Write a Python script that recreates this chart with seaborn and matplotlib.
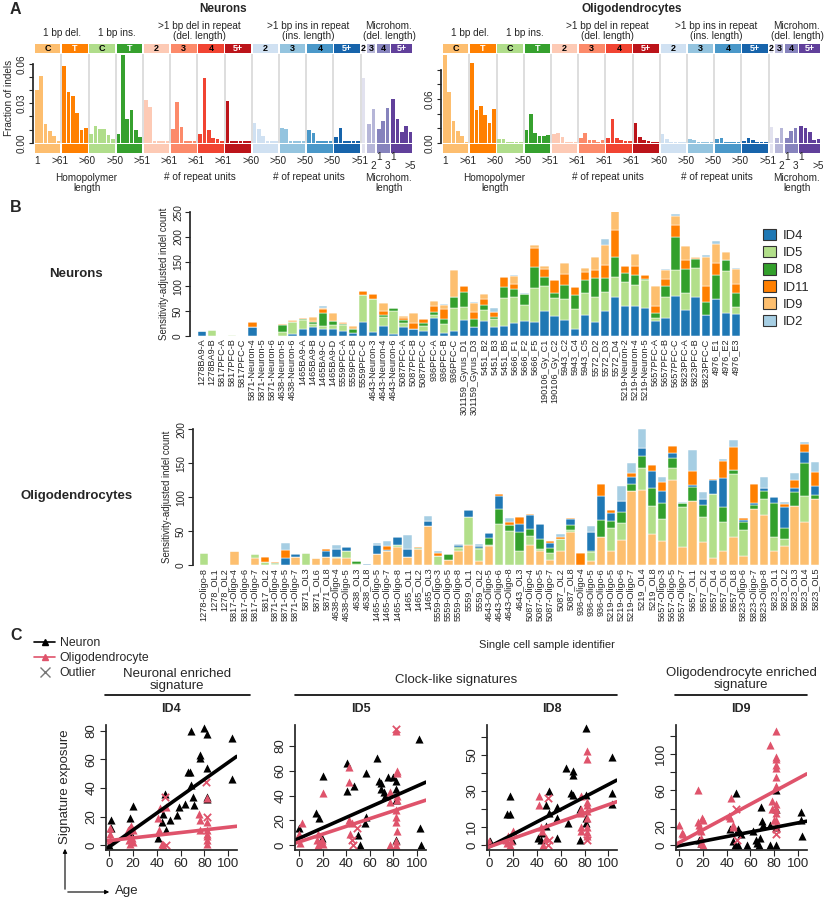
import numpy as np
import pandas as pd
import matplotlib.pyplot as plt
from matplotlib.patches import Rectangle, Patch, FancyArrowPatch
from matplotlib.lines import Line2D
import seaborn as sns

sns.set_theme(style="ticks")
plt.rcParams['font.family'] = ['Liberation Sans', 'DejaVu Sans']

# ---------------- Panel A data: indel profile (83 channels) ----------------
a_groups = ["C", "T", "C", "T", "2", "3", "4", "5+", "2", "3", "4", "5+", "2", "3", "4", "5+"]
a_sizes = [6] * 12 + [1, 2, 3, 5]
a_colors = ["#FDBE6F", "#FF8001", "#B0DD8B", "#36A12E", "#FDCAB5", "#FC8A6A", "#F14432", "#BC141A",
            "#D0E1F2", "#94C4DF", "#4A98C9", "#1764AB", "#E2E2EF", "#B6B6D8", "#8683BD", "#61409B"]
a_white_text = [0, 1, 0, 1, 0, 0, 0, 1, 0, 0, 0, 1, 0, 0, 0, 1]
a_titles = ["1 bp del.", "1 bp ins.", ">1 bp del in repeat\n(del. length)",
            ">1 bp ins in repeat\n(ins. length)", "Microhom.\n(del. length)"]
a_bound_labels = [">61", ">60", ">50", ">51", ">61", ">61", ">61", ">60", ">50", ">50", ">50", ">51"]

neu_1del = [0.040, 0.051, 0.014, 0.009, 0.005, 0.001, 0.0585, 0.039, 0.0356, 0.0224, 0.0097, 0.0115]
neu_1ins = [0.0066, 0.0127, 0.0102, 0.0102, 0.0058, 0.0025, 0.0066, 0.067, 0.0178, 0.025, 0.0097, 0.004]
neu_rdel = [0.0326, 0.027, 0.001, 0.0015, 0.001, 0.001, 0.0102, 0.0308, 0.0122, 0.001, 0.0015, 0.001,
            0.0066, 0.049, 0.0097, 0.0033, 0.0025, 0.0015, 0.0318, 0.001, 0.001, 0.001, 0.001, 0.001]
neu_rins = [0.0153, 0.0102, 0.005, 0.001, 0.001, 0.001, 0.0115, 0.0102, 0.001, 0.001, 0.001, 0.001,
            0.0097, 0.0076, 0.001, 0.001, 0.001, 0.001, 0.0046, 0.011, 0.001, 0.001, 0.001, 0.001]
neu_mh = [0.049, 0.0142, 0.0254, 0.0102, 0.0168, 0.0267, 0.033, 0.0178, 0.0084, 0.0127, 0.0084]

oli_1del = [0.120, 0.069, 0.030, 0.016, 0.009, 0.0014, 0.109, 0.045, 0.050, 0.038, 0.0266, 0.046]
oli_1ins = [0.0046, 0.005, 0.0014, 0.0014, 0.0014, 0.0014, 0.0174, 0.040, 0.0137, 0.009, 0.009, 0.0105]
oli_rdel = [0.012, 0.0137, 0.008, 0.0014, 0.0014, 0.0014, 0.006, 0.0128, 0.0037, 0.0037, 0.0014, 0.0037,
            0.006, 0.0325, 0.006, 0.0037, 0.0028, 0.0028, 0.0266, 0.0082, 0.0037, 0.0028, 0.0014, 0.0014]
oli_rins = [0.0115, 0.0046, 0.0014, 0.0014, 0.0014, 0.0014, 0.0046, 0.0037, 0.0014, 0.0014, 0.0014, 0.0014,
            0.0046, 0.0069, 0.0014, 0.0014, 0.0014, 0.0014, 0.0028, 0.0069, 0.0037, 0.0014, 0.0014, 0.0014]
oli_mh = [0.022, 0.0069, 0.0197, 0.0069, 0.0165, 0.0206, 0.023, 0.0197, 0.015, 0.0037, 0.0046]

# ---------------- Panel B data: signature counts per cell ----------------
sig_names = ["ID4", "ID5", "ID8", "ID11", "ID9", "ID2"]
sig_colors = {"ID4": "#1F78B4", "ID5": "#B2DF8A", "ID8": "#33A02C",
              "ID11": "#FF7F00", "ID9": "#FDBF6F", "ID2": "#A6CEE3"}

neuron_cells = ["1278BA9-A", "1278BA9-B", "5817PFC-A", "5817PFC-B", "5817PFC-C", "5871-Neuron-4",
                "5871-Neuron-5", "5871-Neuron-6", "4638-Neuron-5", "4638-Neuron-6", "1465BA9-A", "1465BA9-B",
                "1465BA9-C", "1465BA9-D", "5559PFC-A", "5559PFC-B", "5559PFC-C", "4643-Neuron-3",
                "4643-Neuron-4", "4643-Neuron-6", "5087PFC-A", "5087PFC-B", "5087PFC-C", "936PFC-A",
                "936PFC-B", "936PFC-C", "301159_Gyrus_D1", "301159_Gyrus_D3", "5451_B2", "5451_B3",
                "5451_B5", "5666_F1", "5666_F2", "5666_F5", "190106_Gy_C1", "190106_Gy_C2", "5943_C2",
                "5943_C4", "5943_C5", "5572_D2", "5572_D3", "5572_D4", "5219-Neuron-2", "5219-Neuron-4",
                "5219-Neuron-5", "5657PFC-A", "5657PFC-B", "5657PFC-C", "5823PFC-A", "5823PFC-B",
                "5823PFC-C", "4976_E1", "4976_E2", "4976_E3"]
neu_ID4 = [10, 0, 0, 0, 0, 17, 0, 0, 0, 3, 13, 18, 13, 14, 9, 6, 28, 8, 20, 3,
           18, 14, 10, 35, 6, 10, 32, 17, 30, 18, 20, 26, 30, 28, 51, 39, 32, 14, 41, 27,
           50, 78, 61, 61, 57, 30, 35, 81, 52, 78, 41, 74, 45, 44]
neu_ID5 = [0, 11, 0, 1, 0, 0, 0, 0, 7, 24, 19, 5, 6, 7, 13, 0, 55, 66, 18, 47,
           8, 0, 10, 7, 17, 47, 27, 0, 22, 15, 57, 53, 33, 69, 50, 37, 43, 41, 45, 51,
           38, 41, 47, 42, 55, 5, 44, 52, 35, 59, 0, 1, 86, 14]
neu_ID8 = [0, 0, 0, 1, 0, 0, 0, 0, 15, 0, 1, 5, 26, 9, 2, 7, 0, 0, 3, 7,
           5, 0, 6, 7, 10, 22, 30, 17, 11, 5, 22, 15, 22, 43, 17, 11, 28, 28, 27, 39,
           28, 40, 19, 19, 2, 11, 22, 66, 48, 19, 28, 48, 23, 28]
neu_ID11 = [0, 0, 0, 0, 0, 11, 0, 0, 1, 2, 3, 1, 10, 0, 2, 0, 7, 10, 9, 0,
            5, 11, 7, 11, 22, 0, 11, 14, 11, 10, 19, 11, 0, 37, 18, 26, 21, 16, 17, 16,
            27, 55, 14, 20, 9, 14, 13, 26, 18, 1, 32, 25, 0, 19]
neu_ID9 = [0, 0, 0, 0, 0, 0, 0, 0, 0, 2, 0, 9, 2, 16, 2, 7, 1, 0, 17, 0,
           4, 20, 0, 11, 7, 55, 0, 18, 11, 0, 1, 16, 0, 7, 6, 0, 24, 0, 7, 27,
           41, 42, 1, 24, 0, 41, 20, 18, 29, 3, 58, 37, 16, 30]
neu_ID2 = [0, 0, 0, 0, 0, 0, 0, 0, 0, 0, 0, 0, 3, 0, 0, 0, 0, 0, 0, 0,
           0, 0, 0, 0, 3, 0, 0, 3, 0, 9, 0, 2, 1, 0, 0, 0, 0, 0, 0, 0,
           11, 0, 0, 0, 0, 0, 1, 4, 0, 0, 5, 7, 0, 3]

oligo_cells = ["1278-Oligo-8", "1278_OL1", "1278_OL2", "5817-Oligo-4", "5817-Oligo-6", "5817-Oligo-7",
               "5817_OL2", "5871-Oligo-4", "5871-Oligo-5", "5871-Oligo-7", "5871_OL3", "5871_OL6",
               "5871_OL8", "4638-Oligo-4", "4638-Oligo-5", "4638_OL3", "4638_OL8", "1465-Oligo-5",
               "1465-Oligo-7", "1465-Oligo-8", "1465_OL1", "1465_OL2", "1465_OL3", "5559-Oligo-3",
               "5559-Oligo-5", "5559-Oligo-8", "5559_OL1", "5559_OL2", "4643-Oligo-5", "4643-Oligo-6",
               "4643-Oligo-8", "4643_OL3", "5087-Oligo-4", "5087-Oligo-5", "5087-Oligo-7", "5087_OL2",
               "5087_OL8", "936-Oligo-4", "936-Oligo-5", "936-Oligo-6", "5219-Oligo-5", "5219-Oligo-6",
               "5219-Oligo-7", "5219_OL4", "5219_OL8", "5657-Oligo-3", "5657-Oligo-5", "5657-Oligo-7",
               "5657_OL1", "5657_OL2", "5657_OL4", "5657_OL6", "5657_OL8", "5823-Oligo-6", "5823-Oligo-7",
               "5823-Oligo-8", "5823_OL1", "5823_OL2", "5823_OL3", "5823_OL4", "5823_OL5"]
oli_ID9 = [0, 0, 0, 21, 0, 10, 0, 0, 0, 12, 0, 11, 12, 10, 10, 0, 0, 16, 20, 27,
           12, 23, 58, 0, 7, 21, 29, 6, 28, 0, 0, 0, 29, 20, 8, 21, 49, 0, 6, 42,
           20, 37, 109, 110, 45, 35, 126, 26, 95, 34, 10, 20, 42, 13, 82, 74, 20, 28, 87, 64, 97]
oli_ID5 = [17, 0, 0, 0, 0, 6, 4, 1, 0, 0, 17, 0, 0, 2, 10, 1, 0, 0, 0, 2,
           0, 0, 0, 14, 0, 4, 42, 17, 2, 60, 50, 21, 14, 4, 10, 17, 2, 0, 13, 0,
           35, 25, 0, 33, 42, 33, 17, 60, 0, 37, 94, 43, 92, 39, 0, 23, 21, 10, 0, 38, 0]
oli_ID8 = [0, 0, 0, 0, 0, 0, 0, 2, 0, 0, 0, 0, 0, 0, 0, 5, 0, 0, 0, 0,
           0, 2, 0, 0, 9, 2, 0, 2, 10, 22, 9, 27, 10, 15, 7, 0, 8, 0, 2, 25,
           10, 16, 10, 18, 27, 24, 15, 5, 20, 17, 1, 22, 6, 12, 7, 12, 50, 17, 21, 48, 6]
oli_ID4 = [0, 0, 0, 0, 0, 0, 0, 0, 11, 4, 0, 0, 9, 11, 6, 0, 2, 13, 2, 12,
           11, 0, 7, 0, 0, 3, 10, 3, 7, 20, 0, 12, 21, 22, 8, 0, 9, 0, 27, 34,
           12, 16, 10, 12, 24, 17, 7, 0, 3, 9, 21, 43, 0, 2, 3, 4, 9, 31, 6, 17, 13]
oli_ID11 = [0, 0, 0, 0, 0, 0, 8, 1, 11, 0, 0, 0, 2, 1, 1, 0, 0, 0, 6, 0,
            0, 1, 0, 3, 0, 0, 0, 0, 0, 3, 4, 11, 1, 0, 3, 4, 2, 17, 0, 18,
            4, 0, 7, 0, 10, 14, 11, 0, 21, 0, 1, 25, 34, 4, 28, 0, 0, 4, 11, 11, 21]
oli_ID2 = [0, 0, 0, 0, 0, 0, 0, 0, 11, 0, 0, 0, 0, 6, 0, 0, 0, 4, 7, 0,
           21, 1, 7, 3, 0, 1, 0, 3, 0, 0, 6, 0, 0, 0, 0, 4, 0, 0, 9, 0,
           0, 22, 14, 28, 0, 6, 0, 2, 30, 10, 0, 3, 10, 0, 0, 17, 0, 3, 10, 4, 15]

# ---------------- Panel C data: exposure vs age ----------------
c_titles = ["ID4", "ID5", "ID8", "ID9"]
id4_neu_age = [0, 2, 2, 17.6, 17.6, 18.4, 20, 41, 44, 45, 47, 48, 51, 57, 59, 64, 66, 68, 69, 70,
               69, 71, 76, 76, 80, 82, 82, 82, 82, 103, 103]
id4_neu_val = [0, 12, 17.5, 19, 12, 8, 27.6, 4.7, 16, 22, 36, 10.5, 17.5, 21, 27, 29, 51, 51, 42, 34,
               80, 28, 63, 61, 82, 78, 54, 34, 32, 75, 46]
id4_oli_age = [1, 1, 1, 16, 16, 17, 17.6, 19, 20, 20, 18, 41, 42, 43, 44, 45, 48, 75, 76, 76,
               82, 82, 82, 82, 82, 82, 82]
id4_oli_val = [8, 12, 3.5, 10.5, 7, 3.5, 1, 4.7, 2.3, 10.5, 13, 19, 10.5, 26, 1, 0, 27, 22, 17.5, 10.5,
               33, 16, 10.5, 8, 6, 3.5, 1]
id4_out_age = [47, 48, 82, 81]
id4_out_val = [34, 0, 20, 44]

id5_neu_age = [0, 14.6, 17, 19, 20, 41, 41, 47, 50, 52, 57, 57, 56, 66, 68, 70, 70, 72, 73, 76,
               80, 82, 82, 82, 82, 102, 103, 104]
id5_neu_val = [13.5, 25.6, 21.5, 6, 56, 66, 44, 48, 8, 0, 58, 23, 17.5, 70, 52, 50, 45, 43, 40, 55,
               55, 52, 45, 36, 4, 86, 14, 0]
id5_oli_age = [0, 2, 0.5, 16, 17.6, 19, 20, 15, 16, 20, 42, 42, 42, 43, 45, 77, 77, 77, 82, 83,
               83, 83, 83, 82, 82, 82, 83, 82, 82]
id5_oli_val = [9, 17.5, 2, 9, 2, 4, 42, 4, 0, 1, 63, 51, 20, 9, 17.5, 43, 35, 0, 92, 60,
               58, 40, 36, 28, 23, 19, 11, 3, 0]
id5_out_age = [45, 46, 49, 82]
id5_out_val = [4, 0, 13.5, 94]

id8_neu_age = [0.5, 15, 17, 17, 19, 41, 43, 44, 48, 48, 50, 50, 57, 57, 57, 64, 66, 69, 70, 70,
               70, 76, 76, 81, 81, 81, 81, 103, 103, 103]
id8_neu_val = [2, 17, 17, 27, 3, 4, 3, 6.5, 10.5, 22, 30, 17.6, 21, 15, 4, 43, 12, 29, 41, 39,
               28, 3, 20, 65, 28, 15, 12, 49, 29, 23]
id8_oli_age = [0, 14, 15, 16, 17, 18, 20, 42, 42, 43, 44, 45, 48, 77, 77, 77, 77, 77, 82, 82,
               82, 82, 82, 82, 82, 82, 82]
id8_oli_val = [2, 3, 1, 5, 0, 2, 8, 27, 22, 10, 8, 0, 4, 27, 20, 18, 10, 8, 52, 48,
               24, 22, 19, 15, 10, 7, 5]
id8_out_age = [49, 49, 50, 82]
id8_out_val = [26, 0, 3, 3]

id9_neu_age = [17, 18, 43, 45, 47, 48, 50, 50, 52, 57, 62, 65, 66, 67, 68, 69, 70, 71, 77, 77,
               82, 82, 82, 82, 103, 103, 104]
id9_neu_val = [5, 2, 18, 4, 0, 57, 18, 0, 12, 0, 15, 5, 2, 0, 8, 42, 26, 22, 0, 22,
               60, 40, 20, 0, 36, 28, 10]
id9_oli_age = [0, 2, 3, 16, 16, 17, 17, 18, 18, 18, 19, 20, 20, 42, 43, 44, 45, 45, 77, 78,
               78, 80, 82, 82, 82, 82, 82, 82, 82, 82, 82, 82, 82, 82]
id9_oli_val = [22, 13, 12, 60, 25, 22, 18, 15, 8, 2, 30, 27, 0, 32, 30, 52, 20, 22, 110, 48,
               40, 28, 125, 97, 95, 88, 85, 75, 65, 45, 40, 35, 28, 22]
id9_out_age = [48, 49, 82, 82]
id9_out_val = [40, 5, 12, 18]

# fitted lines (intercept, slope) for ID4, ID5, ID8, ID9
fit_neu_int = [-1.4, 5.5, -1.0, -0.8]
fit_neu_slope = [0.594, 0.42, 0.346, 0.25]
fit_oli_int = [3.1, 2.6, -1.0, 2.7]
fit_oli_slope = [0.094, 0.312, 0.234, 0.70]

RED = "#DF536B"
W, H = 825, 900
fig = plt.figure(figsize=(W / 100, H / 100), dpi=100)


def px_axes(l, t, r, b):
    return fig.add_axes([l / W, 1 - b / H, (r - l) / W, (b - t) / H])


def ftext(x, y, s, **kw):
    fig.text(x / W, 1 - y / H, s, **kw)


def fline(x0, y0, x1, y1, **kw):
    fig.add_artist(Line2D([x0 / W, x1 / W], [1 - y0 / H, 1 - y1 / H], transform=fig.transFigure, **kw))


# ================= Panel A =================
def channel_layout():
    xs, starts, pos = [], [], 0.0
    for g, n in enumerate(a_sizes):
        if g > 0:
            pos += 0.3
        starts.append(pos)
        xs.extend(pos + np.arange(n))
        pos += n
    return np.array(xs), starts


def draw_profile(ax, values, title, ymax, ticks, labels, first):
    xs, starts = channel_layout()
    cols = [a_colors[g] for g, n in enumerate(a_sizes) for _ in range(n)]
    ax.bar(xs, values, width=0.85, color=cols, linewidth=0)
    ax.set_xlim(-0.9, 87.3)
    ax.set_ylim(0, ymax)
    for s in starts[1:13]:
        ax.axvline(s - 0.65, color="#d4d4d4", lw=1.1, zorder=0)
    tr = ax.get_xaxis_transform()
    for g, (s, n) in enumerate(zip(starts, a_sizes)):
        ax.add_patch(Rectangle((s - 0.45, 1.005), n - 0.1, 0.105, transform=tr,
                               color=a_colors[g], clip_on=False, lw=0))
        ax.text(s + (n - 1) / 2, 1.058, a_groups[g], transform=tr, ha="center", va="center",
                fontsize=6.5, fontweight="bold", color="white" if a_white_text[g] else "black")
        ax.add_patch(Rectangle((s - 0.45, -0.12), n - 0.1, 0.105, transform=tr,
                               color=a_colors[g], clip_on=False, lw=0))
    # group titles
    centers = [5.9, 18.5, 37.7, 62.9, 81.5]
    for c, t in zip(centers, a_titles):
        yy = 1.23 if "\n" not in t else 1.25
        ax.text(c, yy, t, transform=tr, ha="center", va="center", fontsize=7.2, linespacing=0.95)
    ax.text(0.5, 1.5, title, transform=ax.transAxes, ha="center", va="center",
            fontsize=8.5, fontweight="bold")
    # boundary tick labels
    ax.text(0, -0.2, "1", transform=tr, ha="center", va="center", fontsize=7.2)
    for s, lab in zip(starts[1:13], a_bound_labels):
        ax.text(s - 0.9, -0.2, lab, transform=tr, ha="center", va="center", fontsize=7.2)
    mh_up = [(starts[14], "1"), (starts[15], "1")]
    mh_lo = [(starts[13] + 1, "2"), (starts[14] + 2, "3"), (starts[15] + 4, ">5")]
    for x, lab in mh_up:
        ax.text(x, -0.16, lab, transform=tr, ha="center", va="center", fontsize=7.2)
    for x, lab in mh_lo:
        ax.text(x, -0.26, lab, transform=tr, ha="center", va="center", fontsize=7.2)
    for c, t, yy in [(11.5, "Homopolymer\nlength", -0.45), (37.7, "# of repeat units", -0.39),
                     (62.9, "# of repeat units", -0.39), (81.5, "Microhom.\nlength", -0.45)]:
        ax.text(c, yy, t, transform=tr, ha="center", va="center", fontsize=7.2, linespacing=0.95)
    sns.despine(ax=ax, bottom=True)
    ax.spines["left"].set_bounds(0, ticks[-1])
    ax.set_xticks([])
    ax.set_yticks(ticks)
    ax.set_yticklabels(labels, rotation=90, va="center", fontsize=7.2)
    ax.tick_params(axis="y", length=3, width=0.8, pad=1.5)
    if first:
        ax.set_ylabel("Fraction of indels", fontsize=7.2, labelpad=2)


neu_profile = neu_1del + neu_1ins + neu_rdel + neu_rins + neu_mh
oli_profile = oli_1del + oli_1ins + oli_rdel + oli_rins + oli_mh

axA1 = px_axes(33, 53.5, 414, 142.7)
draw_profile(axA1, neu_profile, "Neurons", 0.068, [0, 0.01, 0.02, 0.03, 0.04, 0.05, 0.06],
             ["0.00", "", "", "0.03", "", "", "0.06"], True)
axA2 = px_axes(441, 53.5, 822, 142.7)
draw_profile(axA2, oli_profile, "Oligodendrocytes", 0.1225, [0, 0.02, 0.04, 0.06, 0.08, 0.10],
             ["0.00", "", "", "0.06", "", ""], False)


# ================= Panel B =================
def draw_stack(ax, cells, layers, order, ymax, yticks):
    x = np.arange(len(cells))
    bottom = np.zeros(len(cells))
    for name in order:
        vals = np.array(layers[name], dtype=float)
        ax.bar(x, vals, bottom=bottom, width=0.83, color=sig_colors[name],
               edgecolor="white", linewidth=0.35)
        bottom += vals
    ax.set_ylim(0, ymax)
    ax.set_xticks(x)
    ax.set_xticklabels(cells, rotation=90, fontsize=6.6)
    ax.tick_params(axis="x", length=0, pad=2)
    ax.set_yticks(yticks)
    ax.set_yticklabels([str(v) for v in yticks], rotation=90, va="center", fontsize=7.3)
    ax.tick_params(axis="y", length=3.5, width=0.8, pad=1.5)
    sns.despine(ax=ax, bottom=True)
    ax.spines["left"].set_bounds(0, yticks[-1])
    ax.set_ylabel("Sensitivity-adjusted indel count", fontsize=6.9, labelpad=3)


axB1 = px_axes(190, 212.3, 745, 335.7)
draw_stack(axB1, neuron_cells,
           {"ID4": neu_ID4, "ID5": neu_ID5, "ID8": neu_ID8, "ID11": neu_ID11, "ID9": neu_ID9, "ID2": neu_ID2},
           ["ID4", "ID5", "ID8", "ID11", "ID9", "ID2"], 250, [0, 50, 100, 150, 200, 250])
axB1.set_xlim(-1.19, 53.9)

axB2 = px_axes(193, 429.3, 822, 565)
draw_stack(axB2, oligo_cells,
           {"ID4": oli_ID4, "ID5": oli_ID5, "ID8": oli_ID8, "ID11": oli_ID11, "ID9": oli_ID9, "ID2": oli_ID2},
           ["ID9", "ID5", "ID8", "ID4", "ID11", "ID2"], 200, [0, 50, 100, 150, 200])
axB2.set_xlim(-1.08, 60.7)

handles = [Patch(facecolor=sig_colors[s], edgecolor="#333333", lw=0.8) for s in sig_names]
fig.legend(handles, sig_names, loc="upper left", bbox_to_anchor=(756 / W, 1 - 222 / H), frameon=False,
           fontsize=9.4, handlelength=1.0, handleheight=1.0, handletextpad=0.55, labelspacing=0.3,
           borderpad=0)

ftext(76, 274, "Neurons", fontsize=9.5, fontweight="bold", ha="center", va="center")
ftext(77, 496, "Oligodendrocytes", fontsize=9.5, fontweight="bold", ha="center", va="center")
ftext(547, 645, "Single cell sample identifier", fontsize=8, ha="center", va="center")


# ================= Panel C =================
def draw_sig(ax, k, neu_age, neu_val, oli_age, oli_val, out_age, out_val, xlim, ylim, yticks, ylabels):
    neu = pd.DataFrame({"age": neu_age, "exposure": neu_val})
    oli = pd.DataFrame({"age": oli_age, "exposure": oli_val})
    out = pd.DataFrame({"age": out_age, "exposure": out_val})
    sns.scatterplot(data=neu, x="age", y="exposure", marker="^", s=34, color="black",
                    linewidth=0, ax=ax, clip_on=False)
    sns.scatterplot(data=oli, x="age", y="exposure", marker="^", s=34, color=RED,
                    linewidth=0, ax=ax, clip_on=False)
    sns.scatterplot(data=out, x="age", y="exposure", marker="x", s=28, color=RED,
                    linewidth=1.3, ax=ax, clip_on=False)
    grid = np.linspace(xlim[0], xlim[1], 40)
    sns.lineplot(x=grid, y=fit_neu_int[k] + fit_neu_slope[k] * grid, color="black", lw=2.6, ax=ax)
    sns.lineplot(x=grid, y=fit_oli_int[k] + fit_oli_slope[k] * grid, color=RED, lw=2.6, ax=ax)
    ax.set_xlim(*xlim)
    ax.set_ylim(*ylim)
    ax.set_xticks([0, 20, 40, 60, 80, 100])
    ax.set_xticklabels(["0", "20", "40", "60", "80", "100"], fontsize=9.5)
    ax.set_yticks(yticks)
    ax.set_yticklabels(ylabels, rotation=90, va="center", fontsize=9.5)
    ax.tick_params(length=4, width=0.8, pad=2)
    ax.set_xlabel("")
    ax.set_ylabel("")
    sns.despine(ax=ax)
    ax.set_title(c_titles[k], fontsize=9, fontweight="bold", pad=9)


axC1 = px_axes(105.7, 725, 236.7, 850)
draw_sig(axC1, 0, id4_neu_age, id4_neu_val, id4_oli_age, id4_oli_val, id4_out_age, id4_out_val,
         (-2.8, 107), (-3.5, 84.2), [0, 20, 40, 60, 80], ["0", "20", "40", "60", "80"])
axC2 = px_axes(295, 725, 426, 850)
draw_sig(axC2, 1, id5_neu_age, id5_neu_val, id5_oli_age, id5_oli_val, id5_out_age, id5_out_val,
         (-3.7, 108), (-4, 97), [0, 20, 40, 60, 80], ["0", "20", "40", "60", "80"])
axC3 = px_axes(486.7, 725, 616.7, 850)
draw_sig(axC3, 2, id8_neu_age, id8_neu_val, id8_oli_age, id8_oli_val, id8_out_age, id8_out_val,
         (-2.2, 107), (-2.8, 66.7), [0, 10, 20, 30, 40, 50, 60], ["0", "10", "", "30", "", "50", ""])
axC4 = px_axes(675.7, 725, 806.7, 850)
draw_sig(axC4, 3, id9_neu_age, id9_neu_val, id9_oli_age, id9_oli_val, id9_out_age, id9_out_val,
         (-3, 107.7), (-5.5, 131.8), [0, 20, 40, 60, 80, 100, 120], ["0", "20", "", "60", "", "100", ""])

# group headers
ftext(177, 680, "Neuronal enriched\nsignature", fontsize=9.5, ha="center", va="center", linespacing=0.95)
fline(105, 695, 250, 695, color="black", lw=1.2)
ftext(456, 680, "Clock-like signatures", fontsize=9.5, ha="center", va="center")
fline(295, 695, 617, 695, color="black", lw=1.2)
ftext(741, 679, "Oligodendrocyte enriched\nsignature", fontsize=9.5, ha="center", va="center", linespacing=0.95)
fline(675, 695, 807, 695, color="black", lw=1.2)

# legend for C
c_handles = [Line2D([0], [0], color="black", lw=1.2, marker="^", markersize=4),
             Line2D([0], [0], color=RED, lw=1.2, marker="^", markersize=4),
             Line2D([0], [0], color="#777777", lw=0, marker="x", markersize=7, markeredgewidth=1)]
fig.legend(c_handles, ["Neuron", "Oligodendrocyte", "Outlier"], loc="upper left",
           bbox_to_anchor=(28 / W, 1 - 631 / H), frameon=False, fontsize=8.8, handlelength=1.7,
           handletextpad=0.4, labelspacing=0.25, borderpad=0)

# axis arrows
ftext(65, 787, "Signature exposure", fontsize=9.5, rotation=90, ha="center", va="center")
fig.add_artist(FancyArrowPatch((65 / W, 1 - 892 / H), (65 / W, 1 - 846 / H), transform=fig.transFigure,
                               arrowstyle="-|>", mutation_scale=6, lw=0.8, color="black"))
fig.add_artist(FancyArrowPatch((65 / W, 1 - 892 / H), (112 / W, 1 - 892 / H), transform=fig.transFigure,
                               arrowstyle="-|>", mutation_scale=6, lw=0.8, color="black"))
ftext(115, 891, "Age", fontsize=9.5, ha="left", va="center")

# panel letters
ftext(10, 10, "A", fontsize=11.5, fontweight="bold", ha="left", va="center")
ftext(10, 207, "B", fontsize=11.5, fontweight="bold", ha="left", va="center")
ftext(10, 636, "C", fontsize=11.5, fontweight="bold", ha="left", va="center")

fig.savefig("out.png", dpi=100)
